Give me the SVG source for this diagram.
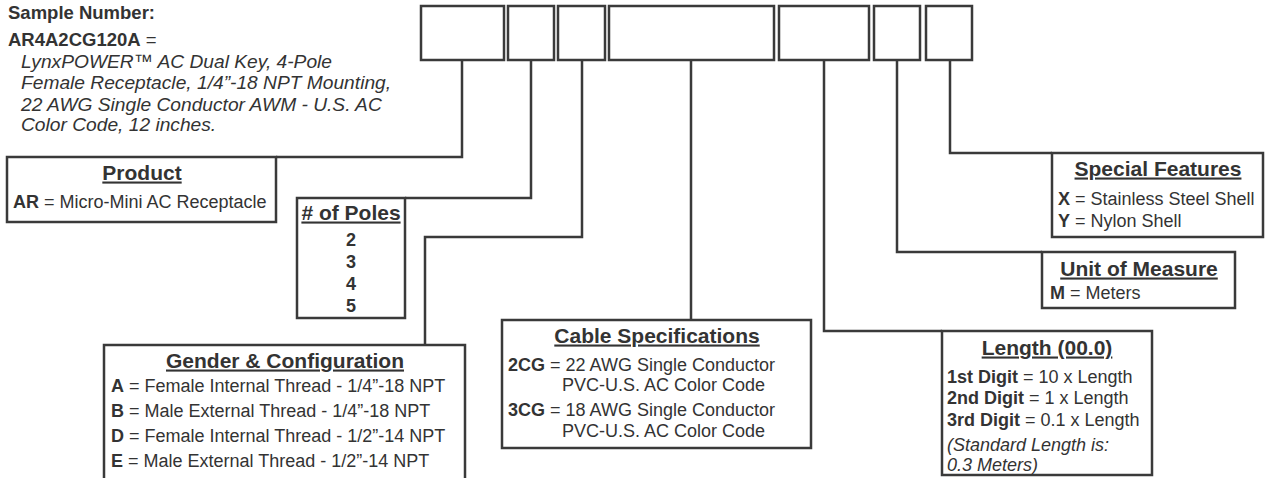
<svg xmlns="http://www.w3.org/2000/svg" width="1265" height="478" viewBox="0 0 1265 478">
<style>
text{font-family:"Liberation Sans",Arial,Helvetica,sans-serif;fill:#333}
.box{fill:#fff;stroke:#3a3a3a;stroke-width:2.5}
.conn{fill:none;stroke:#3a3a3a;stroke-width:2.5}
.hd{font-size:18.5px}
.it{font-size:19.2px;font-style:italic}
.t{font-size:21px;font-weight:bold;text-anchor:middle;text-decoration:underline}
.b{font-size:18px}
.k{font-weight:bold}
.c{text-anchor:middle}
</style>
<rect width="1265" height="478" fill="#fff"/>
<g id="connectors">
<polyline class="conn" points="462,60 462,157 276,157"/>
<polyline class="conn" points="531,60 531,198 405,198"/>
<polyline class="conn" points="582,60 582,237 425,237 425,345"/>
<polyline class="conn" points="691,60 691,320"/>
<polyline class="conn" points="824,60 824,331 942,331"/>
<polyline class="conn" points="897,60 897,252 1042,252"/>
<polyline class="conn" points="950,60 950,153 1052,153"/>
</g>
<g id="sample">
<text class="hd k" x="8" y="19">Sample Number:</text>
<text class="hd" x="8" y="46"><tspan class="k">AR4A2CG120A</tspan> =</text>
<text class="it" x="21" y="68">LynxPOWER™ AC Dual Key, 4-Pole</text>
<text class="it" x="21" y="89">Female Receptacle, 1/4”-18 NPT Mounting,</text>
<text class="it" x="21" y="111">22 AWG Single Conductor AWM -  U.S. AC</text>
<text class="it" x="21" y="131">Color Code, 12 inches.</text>
</g>
<g id="code-boxes">
<rect class="box" x="421" y="6" width="83" height="54"/>
<rect class="box" x="508" y="6" width="46" height="54"/>
<rect class="box" x="558" y="6" width="47" height="54"/>
<rect class="box" x="609" y="6" width="165" height="54"/>
<rect class="box" x="779" y="6" width="90" height="54"/>
<rect class="box" x="874" y="6" width="46" height="54"/>
<rect class="box" x="926" y="6" width="46" height="54"/>
</g>
<g id="product">
<rect class="box" x="7" y="157" width="269" height="65"/>
<text class="t" x="142" y="179.5">Product</text>
<text class="b" x="13" y="208"><tspan class="k">AR</tspan> = Micro-Mini AC Receptacle</text>
</g>
<g id="poles">
<rect class="box" x="297" y="198" width="108" height="120"/>
<text class="t" x="351" y="219.5"># of Poles</text>
<text class="b k c" x="351" y="246">2</text>
<text class="b k c" x="351" y="268">3</text>
<text class="b k c" x="351" y="290">4</text>
<text class="b k c" x="351" y="312">5</text>
</g>
<g id="gender">
<rect class="box" x="104" y="345" width="361" height="136"/>
<text class="t" x="285" y="367.5">Gender &amp; Configuration</text>
<text class="b" x="111" y="392"><tspan class="k">A</tspan> = Female Internal Thread - 1/4”-18 NPT</text>
<text class="b" x="111" y="417"><tspan class="k">B</tspan> = Male External Thread - 1/4”-18 NPT</text>
<text class="b" x="111" y="442"><tspan class="k">D</tspan> = Female Internal Thread - 1/2”-14 NPT</text>
<text class="b" x="111" y="467"><tspan class="k">E</tspan> = Male External Thread - 1/2”-14 NPT</text>
</g>
<g id="cable">
<rect class="box" x="502" y="320" width="309" height="128"/>
<text class="t" x="657" y="342.5">Cable Specifications</text>
<text class="b" x="508" y="371"><tspan class="k">2CG</tspan> = 22 AWG Single Conductor</text>
<text class="b" x="562" y="391">PVC-U.S. AC Color Code</text>
<text class="b" x="508" y="416"><tspan class="k">3CG</tspan> = 18 AWG Single Conductor</text>
<text class="b" x="562" y="437">PVC-U.S. AC Color Code</text>
</g>
<g id="length">
<rect class="box" x="942" y="331" width="210" height="144"/>
<text class="t" x="1047" y="354.5">Length (00.0)</text>
<text class="b" x="947" y="383"><tspan class="k">1st Digit</tspan> = 10 x Length</text>
<text class="b" x="947" y="404"><tspan class="k">2nd Digit</tspan> = 1 x Length</text>
<text class="b" x="947" y="426"><tspan class="k">3rd Digit</tspan> = 0.1 x Length</text>
<text class="b" x="947" y="451" font-style="italic">(Standard Length is:</text>
<text class="b" x="947" y="471" font-style="italic">0.3 Meters)</text>
</g>
<g id="unit">
<rect class="box" x="1042" y="252" width="193" height="56"/>
<text class="t" x="1139" y="275.5">Unit of Measure</text>
<text class="b" x="1050" y="299"><tspan class="k">M</tspan> = Meters</text>
</g>
<g id="special">
<rect class="box" x="1052" y="153" width="211" height="84"/>
<text class="t" x="1158" y="175.5">Special Features</text>
<text class="b" x="1058" y="205"><tspan class="k">X</tspan> = Stainless Steel Shell</text>
<text class="b" x="1058" y="227"><tspan class="k">Y</tspan> = Nylon Shell</text>
</g>
</svg>
